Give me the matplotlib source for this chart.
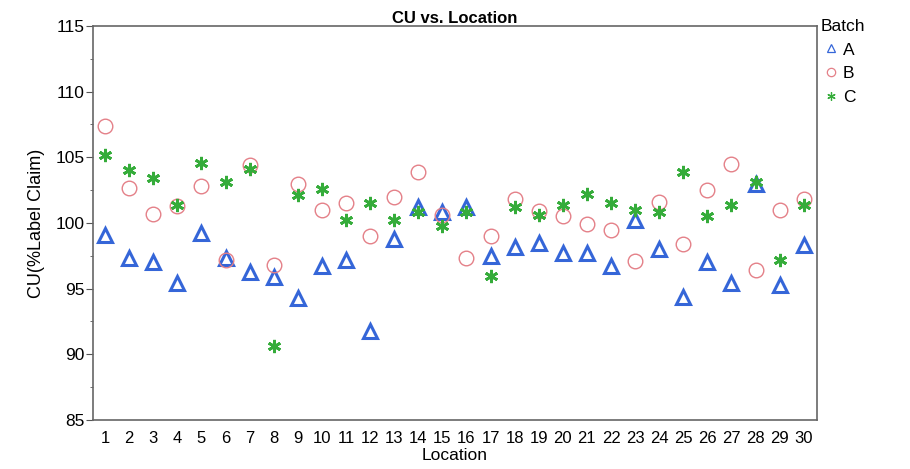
import numpy as np
import matplotlib
matplotlib.use("Agg")
from matplotlib import pyplot as plt
from matplotlib.lines import Line2D

plt.rcParams['font.family'] = ['Liberation Sans', 'DejaVu Sans']

# datos
location = list(range(1, 31))
batch_a = [99.1, 97.3, 97.0, 95.4, 99.2, 97.3, 96.3, 95.9, 94.3, 96.7,
           97.2, 91.8, 98.8, 101.2, 100.8, 101.2, 97.5, 98.2, 98.5, 97.7,
           97.7, 96.7, 100.2, 98.0, 94.4, 97.0, 95.4, 103.0, 95.3, 98.3]
batch_b = [107.4, 102.7, 100.7, 101.3, 102.8, 97.2, 104.4, 96.8, 103.0, 101.0,
           101.5, 99.0, 102.0, 103.9, 100.6, 97.3, 99.0, 101.8, 100.9, 100.5,
           99.9, 99.5, 97.1, 101.6, 98.4, 102.5, 104.5, 96.4, 101.0, 101.8]
batch_c = [105.2, 104.0, 103.4, 101.4, 104.6, 103.1, 104.1, 90.6, 102.1, 102.6,
           100.2, 101.5, 100.2, 100.8, 99.8, 100.8, 96.0, 101.2, 100.6, 101.4,
           102.2, 101.5, 101.0, 100.8, 103.9, 100.5, 101.4, 103.1, 97.2, 101.4]
batches = ['A', 'B', 'C']

col_a = '#3566d8'
col_b = '#e48088'
col_c = '#35ac3a'
star = (6, 2, 0)

fig = plt.figure(figsize=(9.1, 4.69), dpi=100)
ax = fig.add_axes([0.1022, 0.1045, 0.7956, 0.8401])

ax.plot(location, batch_a, linestyle='none', marker='^', markersize=9.5,
        markerfacecolor='none', markeredgecolor=col_a, markeredgewidth=2.2)
ax.plot(location, batch_b, linestyle='none', marker='o', markersize=10.5,
        markerfacecolor='none', markeredgecolor=col_b, markeredgewidth=1.0)
ax.plot(location, batch_c, linestyle='none', marker=star, markersize=9.5,
        markeredgecolor=col_c, markeredgewidth=2.0)

ax.set_xlim(0.5, 30.55)
ax.set_ylim(85, 115)
ax.set_xticks(location)
ax.set_xticklabels([str(l) for l in location])
ax.set_yticks(np.arange(85, 116, 5))
ax.set_yticks(np.arange(85, 116, 2.5), minor=True)
ax.tick_params(axis='x', length=0, labelsize=12, pad=8)
ax.tick_params(axis='y', which='major', length=5, labelsize=12.5, pad=1, color='#555555')
ax.tick_params(axis='y', which='minor', length=2.5, color='#555555')
ax.tick_params(axis='x', which='minor', length=0)
for sp in ax.spines.values():
    sp.set_color('#666666')
    sp.set_linewidth(1.2)

ax.set_title('CU vs. Location', fontsize=12, fontweight='bold', pad=2)
ax.set_xlabel('Location', fontsize=12.5, labelpad=1.5)
ax.set_ylabel('CU(%Label Claim)', fontsize=13, labelpad=7.5)

handles = [
    Line2D([], [], linestyle='none', marker='^', markersize=5.5, markerfacecolor='none',
           markeredgecolor=col_a, markeredgewidth=0.9),
    Line2D([], [], linestyle='none', marker='o', markersize=6, markerfacecolor='none',
           markeredgecolor=col_b, markeredgewidth=0.9),
    Line2D([], [], linestyle='none', marker=star, markersize=6,
           markeredgecolor=col_c, markeredgewidth=0.9),
]
leg = ax.legend(handles, batches, title='Batch', loc='upper left',
                bbox_to_anchor=(0.99, 1.045), frameon=False, handletextpad=0.1,
                handlelength=1.2, labelspacing=0.5, fontsize=12.5,
                title_fontsize=12.5, borderaxespad=0.2)
leg._legend_box.align = 'left'

fig.savefig('out.png', dpi=100)
